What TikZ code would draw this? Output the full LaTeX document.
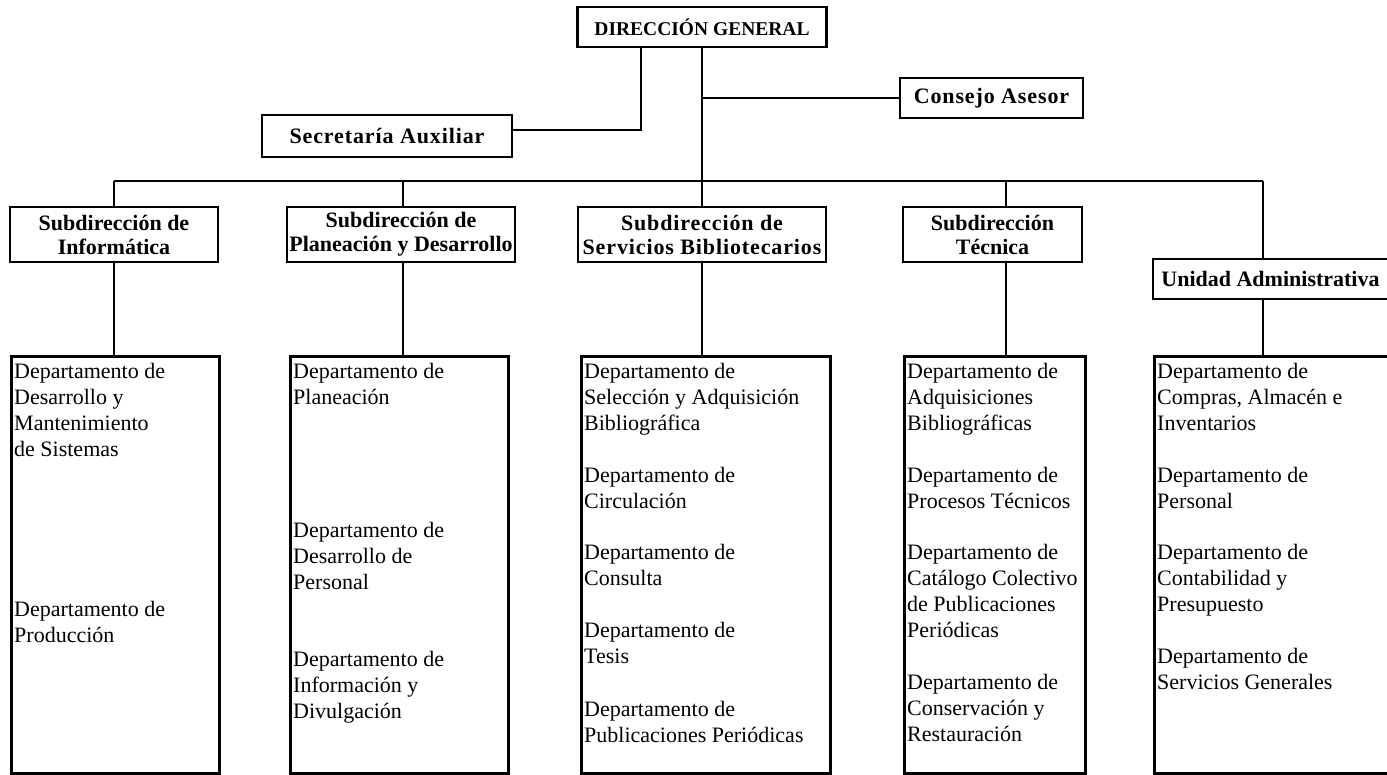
\documentclass[tikz,border=0pt]{standalone}
\usepackage{fontspec}
\setmainfont{Liberation Serif}
\newcommand{\deptfont}{\fontsize{22}{26}\selectfont}
\newcommand{\headfont}{\fontsize{22}{24}\selectfont\bfseries}
\newcommand{\dgfont}{\fontsize{19.5}{22}\selectfont\bfseries}
\tikzset{
  jefe/.style={shape=rectangle, draw=black, line width=2.6pt, inner sep=0pt, align=center, font=\headfont},
  ancho/.style={font=\headfont\addfontfeature{LetterSpace=4}},
  depto/.style={shape=rectangle, draw=black, line width=2.6pt, inner sep=0pt, anchor=north west},
  lista/.style={anchor=north west, inner sep=0pt, align=left, font=\deptfont},
  liga/.style={line width=1.7pt}
}
\begin{document}
\begin{tikzpicture}[x=1pt,y=-1pt]
\useasboundingbox (0,0) rectangle (1387,774);
% mando superior
\node[jefe, font=\dgfont, minimum width=249pt, minimum height=40pt] (dg) at (702,27) {DIRECCIÓN GENERAL};
\node[jefe, ancho, minimum width=250pt, minimum height=42pt] (sa) at (387,136) {Secretaría Auxiliar};
\node[jefe, ancho, minimum width=183pt, minimum height=40pt] (ca) at (991.5,98) {Consejo Asesor};
% subdirecciones
\node[jefe, minimum width=208pt, minimum height=55pt] (si) at (114,234.5) {Subdirección de\\Informática};
\node[jefe, minimum width=228pt, minimum height=55pt] (sp) at (401,234.5) {Subdirección de\\Planeación y Desarrollo};
\node[jefe, ancho, minimum width=248pt, minimum height=55pt] (ss) at (702,234.5) {Subdirección de\\Servicios Bibliotecarios};
\node[jefe, minimum width=179pt, minimum height=55pt] (st) at (992.5,234.5) {Subdirección\\Técnica};
\node[jefe, minimum width=235pt, minimum height=40pt] (ua) at (1270.5,279) {Unidad Administrativa};
% departamentos
\node[depto, minimum width=208pt, minimum height=417pt] (di) at (10,355) {};
\node[depto, minimum width=218pt, minimum height=417pt] (dp) at (289,355) {};
\node[depto, minimum width=249pt, minimum height=417pt] (ds) at (580,355) {};
\node[depto, minimum width=181pt, minimum height=417pt] (dt) at (903,355) {};
\node[depto, minimum width=236pt, minimum height=417pt] (du) at (1153,355) {};
\node[lista] (di1) at (14,363) {Departamento de\\Desarrollo y\\Mantenimiento\\de Sistemas};
\node[lista] (di2) at (14,601) {Departamento de\\Producción};
\node[lista] (dp1) at (293,363) {Departamento de\\Planeación};
\node[lista] (dp2) at (293,522) {Departamento de\\Desarrollo de\\Personal};
\node[lista] (dp3) at (293,651) {Departamento de\\Información y\\Divulgación};
\node[lista] (ds1) at (584,363) {Departamento de\\Selección y Adquisición\\Bibliográfica};
\node[lista] (ds2) at (584,467) {Departamento de\\Circulación};
\node[lista] (ds3) at (584,544) {Departamento de\\Consulta};
\node[lista] (ds4) at (584,622) {Departamento de\\Tesis};
\node[lista] (ds5) at (584,701) {Departamento de\\Publicaciones Periódicas};
\node[lista] (dt1) at (907,363) {Departamento de\\Adquisiciones\\Bibliográficas};
\node[lista] (dt2) at (907,467) {Departamento de\\Procesos Técnicos};
\node[lista] (dt3) at (907,544) {Departamento de\\Catálogo Colectivo\\de Publicaciones\\Periódicas};
\node[lista] (dt4) at (907,674) {Departamento de\\Conservación y\\Restauración};
\node[lista] (du1) at (1157,363) {Departamento de\\Compras, Almacén e\\Inventarios};
\node[lista] (du2) at (1157,467) {Departamento de\\Personal};
\node[lista] (du3) at (1157,544) {Departamento de\\Contabilidad y\\Presupuesto};
\node[lista] (du4) at (1157,648) {Departamento de\\Servicios Generales};
% enlaces
\coordinate (jsa) at (641,130);
\coordinate (b1) at (114,181);
\coordinate (b2) at (403,181);
\coordinate (b4) at (1006,181);
\coordinate (b5) at (1263,181);
\draw[liga] (dg.south -| jsa) -- (jsa) -- (jsa -| sa.east);
\draw[liga] (dg.south) -- (ss.north);
\draw[liga] (ca.west) -- (ca.west -| dg.south);
\draw[liga] (b1) -- (b5);
\draw[liga] (b1) -- (si.north);
\draw[liga] (b2) -- (b2 |- sp.north);
\draw[liga] (b4) -- (b4 |- st.north);
\draw[liga] (b5) -- (b5 |- ua.north);
\draw[liga] (si.south) -- (si.south |- di.north);
\draw[liga] (sp.south -| b2) -- (dp.north -| b2);
\draw[liga] (ss.south) -- (ss.south |- ds.north);
\draw[liga] (st.south -| b4) -- (dt.north -| b4);
\draw[liga] (ua.south -| b5) -- (du.north -| b5);
\end{tikzpicture}
\end{document}
